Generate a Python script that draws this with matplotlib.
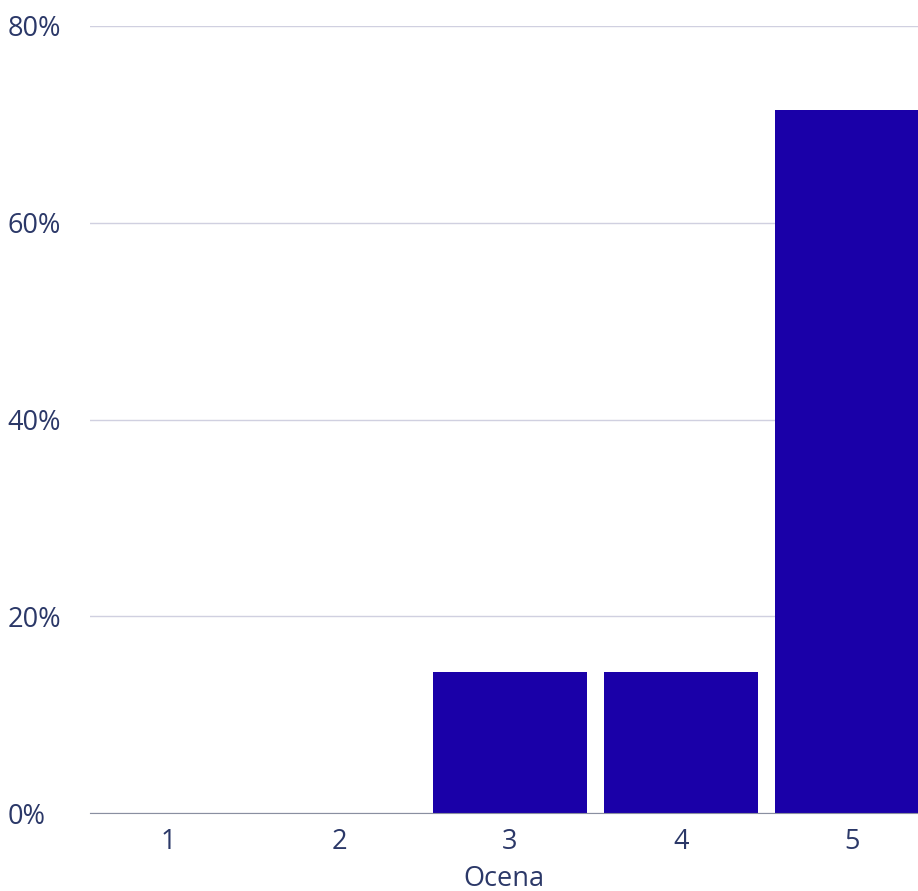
import matplotlib.pyplot as plt
from matplotlib.ticker import FuncFormatter

# ocena i udział odpowiedzi (%)
oceny = [1, 2, 3, 4, 5]
udzial = [0, 0, 14.29, 14.29, 71.43]
y_ticks = [0, 20, 40, 60, 80]

tekst = '#2b3868'
plt.rcParams['font.family'] = ['Open Sans', 'DejaVu Sans']

fig = plt.figure(figsize=(9.18, 8.91), dpi=100)
ax = fig.add_axes([90 / 918, 1 - 813 / 891, 1 - 90 / 918, (813 - 26) / 891])

ax.bar(oceny, udzial, width=0.9, color='#1a00a8', zorder=3)

ax.set_xlim(0.544, 5.386)
ax.set_ylim(0, 80)
ax.set_yticks(y_ticks)
ax.yaxis.set_major_formatter(FuncFormatter(lambda v, p: f"{v:.0f}%"))
ax.set_xticks(oceny)
ax.grid(axis='y', color='#d0d0e0', linewidth=1, zorder=0)

for s in ['top', 'right', 'left']:
    ax.spines[s].set_visible(False)
ax.spines['bottom'].set_color('#8a8fa0')
ax.spines['bottom'].set_zorder(4)

ax.tick_params(axis='both', length=0, labelsize=19.5, labelcolor=tekst)
ax.tick_params(axis='x', pad=11)
for lab in ax.get_yticklabels():
    lab.set_horizontalalignment('left')
    lab.set_x(-78 / 828)

ax.set_xlabel('Ocena', fontsize=19.5, color=tekst, labelpad=6)

fig.savefig('out.png', dpi=100)
